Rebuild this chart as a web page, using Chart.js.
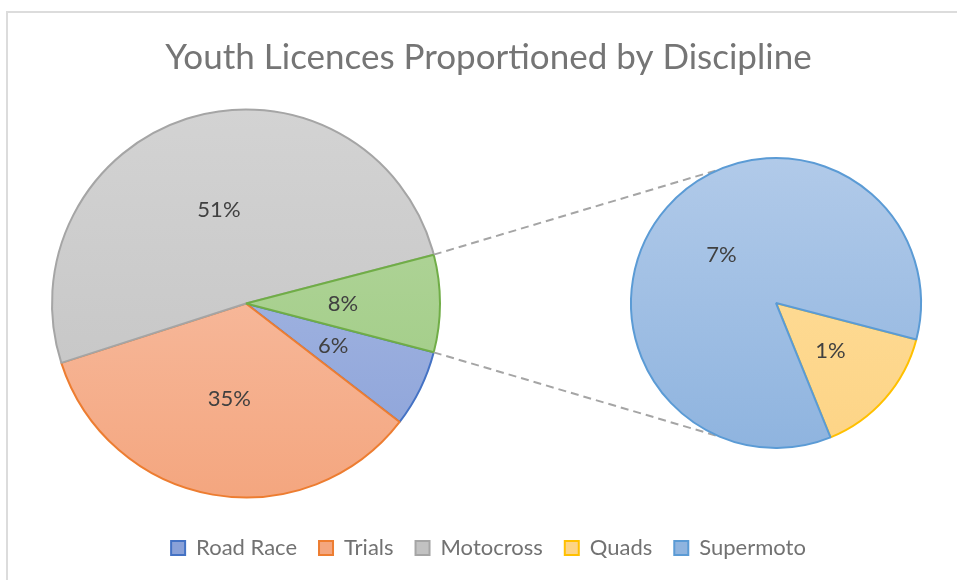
<!DOCTYPE html>
<html>
<head>
<meta charset="utf-8">
<script src="https://cdn.jsdelivr.net/npm/chart.js@4.4.1/dist/chart.umd.min.js"></script>
<style>
  body { margin: 0; background: #fff; }
  .frame { position: absolute; left: 6px; top: 11px; width: 1000px; height: 640px; border: 2px solid #dcdcdc; }
  #mainChart { position: absolute; left: 0; top: 0; }
  #detailChart { position: absolute; left: 621px; top: 148px; }
</style>
</head>
<body>
<div class="frame"></div>
<canvas id="mainChart" width="957" height="580"></canvas>
<canvas id="detailChart" width="310" height="310"></canvas>
<script>
// percentages
const mainLabels = ['Road Race', 'Trials', 'Motocross'];
const mainValues = [6.4, 34.6, 50.9];
const detailLabels = ['Quads', 'Supermoto'];
const detailValues = [1.2, 6.9];

const otherValue = detailValues.reduce((a, b) => a + b, 0);
const grandTotal = mainValues.reduce((a, b) => a + b, 0) + otherValue;

// colours: [top of gradient, bottom of gradient], then borders
const mainFills = [['#afbfe6', '#8aa1d8'], ['#f9c7b1', '#f4a67f'], ['#d3d3d3', '#c2c2c2'], ['#b7d7a2', '#9bca7e']];
const mainBorders = ['#4472c4', '#ed7d31', '#a5a5a5', '#70ad47'];
const detailFills = [['#fedf9e', '#fdd486'], ['#b1cae9', '#8fb4df']];
const detailBorders = ['#ffc000', '#5b9bd5'];

const font = 'Lato, "Open Sans", sans-serif';
const leftRadius = 194;
const leftCenterX = 246;
const rightRadius = 145;
const rotation = 90 + otherValue / grandTotal * 180;

const gradient = (chart, radius, colors) => {
    const a = chart.chartArea;
    if (!a) return colors[0];
    const cy = (a.top + a.bottom) / 2;
    const g = chart.ctx.createLinearGradient(0, cy - radius, 0, cy + radius);
    g.addColorStop(0, colors[0]);
    g.addColorStop(1, colors[1]);
    return g;
};

const sliceLabels = {
    id: 'sliceLabels',
    afterDatasetsDraw(chart) {
        const { ctx } = chart;
        const data = chart.data.datasets[0].data;
        ctx.save();
        ctx.font = '22px ' + font;
        ctx.fillStyle = '#404040';
        ctx.textAlign = 'center';
        ctx.textBaseline = 'middle';
        chart.getDatasetMeta(0).data.forEach((arc, i) => {
            const p = arc.tooltipPosition();
            ctx.fillText(Math.round(data[i] / grandTotal * 100) + '%', p.x, p.y);
        });
        ctx.restore();
    }
};

const detailChart = new Chart(document.getElementById('detailChart'), {
    type: 'pie',
    data: {
        labels: detailLabels,
        datasets: [{
            data: detailValues,
            backgroundColor: (c) => gradient(c.chart, rightRadius, detailFills[c.dataIndex]),
            borderColor: detailBorders,
            borderWidth: 2
        }]
    },
    options: {
        responsive: false,
        animation: false,
        rotation: rotation,
        radius: rightRadius,
        layout: { padding: 5 },
        plugins: { legend: { display: false }, title: { display: false }, tooltip: { enabled: false } }
    },
    plugins: [sliceLabels]
});

// move the left pie's plot area so the pie sits left of centre
const placePie = {
    id: 'placePie',
    afterLayout(chart) {
        const a = chart.chartArea;
        a.left = leftCenterX - (a.bottom - a.top) / 2;
        a.right = leftCenterX + (a.bottom - a.top) / 2;
        a.width = a.right - a.left;
    }
};

const connectors = {
    id: 'connectors',
    afterDraw(chart) {
        const other = chart.getDatasetMeta(0).data[3];
        const small = detailChart.getDatasetMeta(0).data[0];
        const dx = detailChart.canvas.offsetLeft - chart.canvas.offsetLeft;
        const dy = detailChart.canvas.offsetTop - chart.canvas.offsetTop;
        const ctx = chart.ctx;
        ctx.save();
        ctx.strokeStyle = '#a5a5a5';
        ctx.lineWidth = 2;
        ctx.setLineDash([8, 5]);
        [[other.startAngle, -1], [other.endAngle, 1]].forEach(([a, s]) => {
            const b = s * 1.97;
            ctx.beginPath();
            ctx.moveTo(other.x + Math.cos(a) * other.outerRadius, other.y + Math.sin(a) * other.outerRadius);
            ctx.lineTo(small.x + dx + Math.cos(b) * small.outerRadius, small.y + dy + Math.sin(b) * small.outerRadius);
            ctx.stroke();
        });
        ctx.restore();
    }
};

const legendNames = mainLabels.concat(detailLabels);
const legendFills = mainFills.slice(0, 3).concat(detailFills).map(c => c[1]);
const legendBorders = mainBorders.slice(0, 3).concat(detailBorders);

new Chart(document.getElementById('mainChart'), {
    type: 'pie',
    data: {
        labels: mainLabels.concat(['Other']),
        datasets: [{
            data: mainValues.concat([otherValue]),
            backgroundColor: (c) => gradient(c.chart, leftRadius, mainFills[c.dataIndex]),
            borderColor: mainBorders,
            borderWidth: 2
        }]
    },
    options: {
        responsive: false,
        animation: false,
        rotation: rotation,
        radius: leftRadius,
        layout: { padding: { top: 0, bottom: 11, left: 20, right: 0 } },
        plugins: {
            tooltip: { enabled: false },
            title: {
                display: true,
                text: 'Youth Licences Proportioned by Discipline',
                color: '#757575',
                font: { family: font, size: 35, weight: 'normal' },
                padding: { top: 37, bottom: 13 }
            },
            legend: {
                position: 'bottom',
                onClick: null,
                labels: {
                    boxWidth: 14,
                    boxHeight: 14,
                    padding: 22,
                    color: '#727272',
                    font: { family: font, size: 22 },
                    generateLabels: () => legendNames.map((text, i) => ({
                        text,
                        fillStyle: legendFills[i],
                        strokeStyle: legendBorders[i],
                        lineWidth: 2,
                        fontColor: '#727272',
                        hidden: false,
                        index: i
                    }))
                }
            }
        }
    },
    plugins: [placePie, sliceLabels, connectors]
});
</script>
</body>
</html>
